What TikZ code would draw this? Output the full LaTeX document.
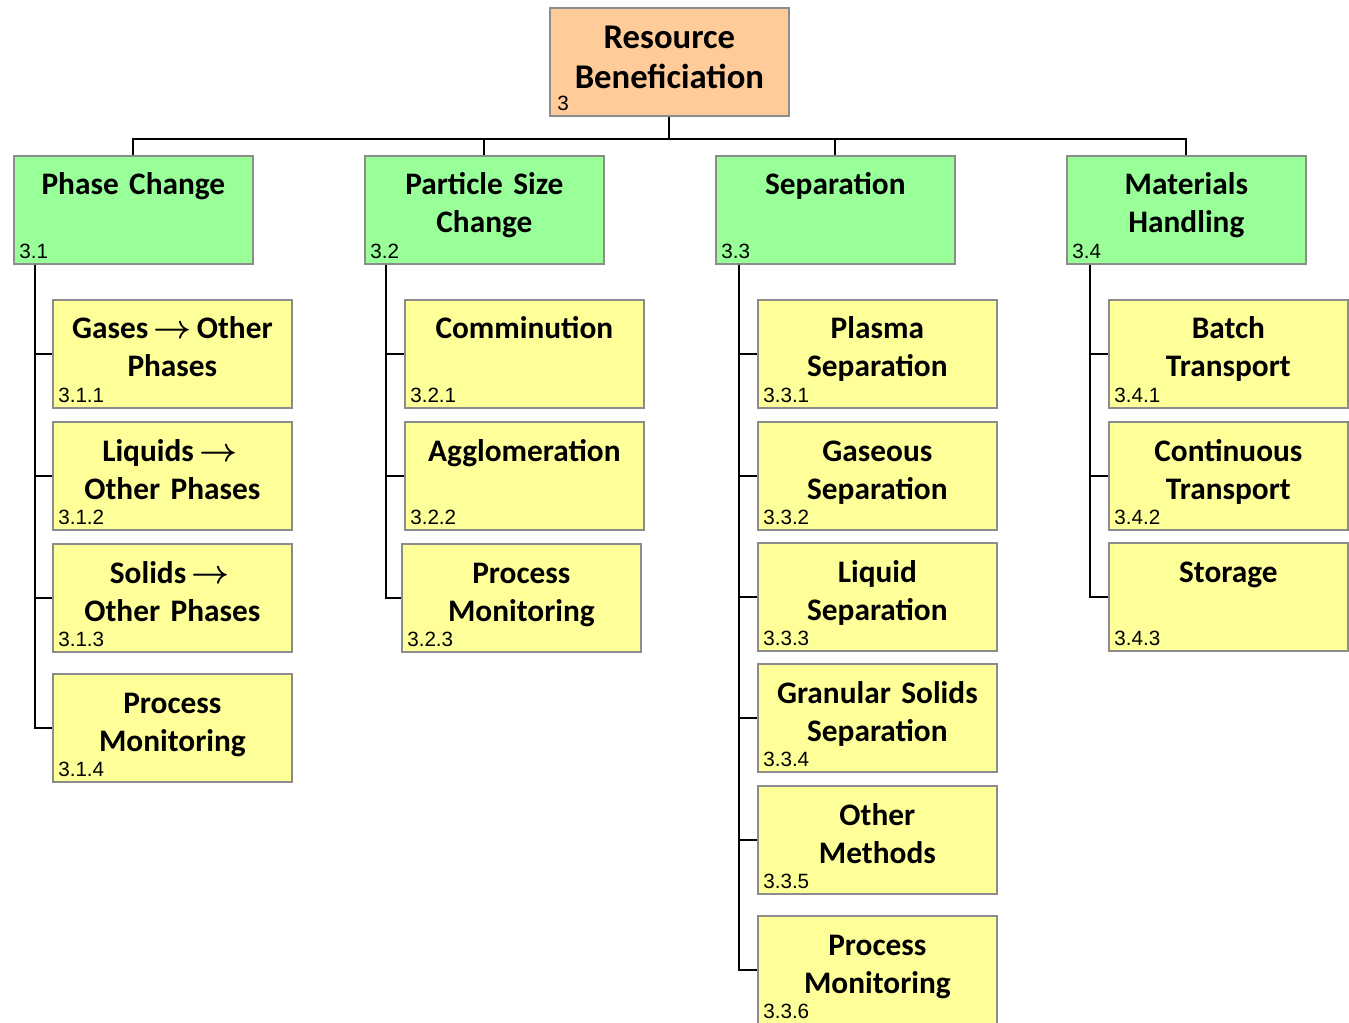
\documentclass[tikz,border=0pt]{standalone}
\usepackage{amsmath}
\usepackage{fontspec}
\setmainfont{Carlito}
\newfontfamily\numfont{Liberation Sans}
\usetikzlibrary{calc}
\definecolor{rootfill}{HTML}{FFCC99}
\definecolor{grnfill}{HTML}{99FF99}
\definecolor{yelfill}{HTML}{FFFF99}
\definecolor{bordergray}{HTML}{8C8C8C}
\newcommand{\arr}{\,$\boldsymbol{\rightarrow}$\,}
\tikzset{
  wbox/.style={draw=bordergray, line width=1.3pt, anchor=north west, minimum width=179.25pt, minimum height=81pt, inner sep=0pt},
  rootbox/.style={wbox, fill=rootfill},
  l2box/.style={wbox, fill=grnfill},
  l3box/.style={wbox, fill=yelfill},
  ttl/.style={anchor=base, align=center, text width=175pt, inner sep=0pt, font=\fontsize{23.5}{28.5}\selectfont\bfseries},
  rootttl/.style={ttl, font=\fontsize{26}{30}\selectfont\bfseries},
  num/.style={anchor=base west, inner sep=0pt, font=\numfont\fontsize{15.5}{17}\selectfont},
  conn/.style={draw=black, line width=1.5pt}
}
\begin{document}
\begin{tikzpicture}[x=0.75pt, y=-0.75pt]
\useasboundingbox (0,0) rectangle (1349,1023);
\clip (0,0) rectangle (1349,1023);
% boxes
\node[rootbox] (r) at (549,7) {};
\node[l2box] (b31) at (13,155) {};
\node[l2box] (b32) at (364,155) {};
\node[l2box] (b33) at (715,155) {};
\node[l2box] (b34) at (1066,155) {};
\node[l3box] (b311) at (52,299) {};
\node[l3box] (b312) at (52,421) {};
\node[l3box] (b313) at (52,543) {};
\node[l3box] (b314) at (52,673) {};
\node[l3box] (b321) at (404,299) {};
\node[l3box] (b322) at (404,421) {};
\node[l3box] (b323) at (401,543) {};
\node[l3box] (b331) at (757,299) {};
\node[l3box] (b332) at (757,421) {};
\node[l3box] (b333) at (757,542) {};
\node[l3box] (b334) at (757,663) {};
\node[l3box] (b335) at (757,785) {};
\node[l3box] (b336) at (757,915) {};
\node[l3box] (b341) at (1108,299) {};
\node[l3box] (b342) at (1108,421) {};
\node[l3box] (b343) at (1108,542) {};
% titles
\node[rootttl] (tr) at ($(r.north)+(0,42)$) {Resource\\Beneficiation};
\node[ttl] (t31) at ($(b31.north)+(0,40)$) {Phase Change};
\node[ttl] (t32) at ($(b32.north)+(0,40)$) {Particle Size\\Change};
\node[ttl] (t33) at ($(b33.north)+(0,40)$) {Separation};
\node[ttl] (t34) at ($(b34.north)+(0,40)$) {Materials\\Handling};
\node[ttl] (t311) at ($(b311.north)+(0,40)$) {Gases\arr Other\\Phases};
\node[ttl] (t312) at ($(b312.north)+(0,40)$) {Liquids\arr\\Other Phases};
\node[ttl] (t313) at ($(b313.north)+(0,40)$) {Solids\arr\\Other Phases};
\node[ttl] (t314) at ($(b314.north)+(0,40)$) {Process\\Monitoring};
\node[ttl] (t321) at ($(b321.north)+(0,40)$) {Comminution};
\node[ttl] (t322) at ($(b322.north)+(0,40)$) {Agglomeration};
\node[ttl] (t323) at ($(b323.north)+(0,40)$) {Process\\Monitoring};
\node[ttl] (t331) at ($(b331.north)+(0,40)$) {Plasma\\Separation};
\node[ttl] (t332) at ($(b332.north)+(0,40)$) {Gaseous\\Separation};
\node[ttl] (t333) at ($(b333.north)+(0,40)$) {Liquid\\Separation};
\node[ttl] (t334) at ($(b334.north)+(0,40)$) {Granular Solids\\Separation};
\node[ttl] (t335) at ($(b335.north)+(0,40)$) {Other\\Methods};
\node[ttl] (t336) at ($(b336.north)+(0,40)$) {Process\\Monitoring};
\node[ttl] (t341) at ($(b341.north)+(0,40)$) {Batch\\Transport};
\node[ttl] (t342) at ($(b342.north)+(0,40)$) {Continuous\\Transport};
\node[ttl] (t343) at ($(b343.north)+(0,40)$) {Storage};
% numbers
\node[num] (nr) at ($(r.south west)+(8,-6)$) {3};
\node[num] (n31) at ($(b31.south west)+(6,-6)$) {3.1};
\node[num] (n32) at ($(b32.south west)+(6,-6)$) {3.2};
\node[num] (n33) at ($(b33.south west)+(6,-6)$) {3.3};
\node[num] (n34) at ($(b34.south west)+(6,-6)$) {3.4};
\node[num] (n311) at ($(b311.south west)+(6,-6)$) {3.1.1};
\node[num] (n312) at ($(b312.south west)+(6,-6)$) {3.1.2};
\node[num] (n313) at ($(b313.south west)+(6,-6)$) {3.1.3};
\node[num] (n314) at ($(b314.south west)+(6,-6)$) {3.1.4};
\node[num] (n321) at ($(b321.south west)+(6,-6)$) {3.2.1};
\node[num] (n322) at ($(b322.south west)+(6,-6)$) {3.2.2};
\node[num] (n323) at ($(b323.south west)+(6,-6)$) {3.2.3};
\node[num] (n331) at ($(b331.south west)+(6,-6)$) {3.3.1};
\node[num] (n332) at ($(b332.south west)+(6,-6)$) {3.3.2};
\node[num] (n333) at ($(b333.south west)+(6,-6)$) {3.3.3};
\node[num] (n334) at ($(b334.south west)+(6,-6)$) {3.3.4};
\node[num] (n335) at ($(b335.south west)+(6,-6)$) {3.3.5};
\node[num] (n336) at ($(b336.south west)+(6,-6)$) {3.3.6};
\node[num] (n341) at ($(b341.south west)+(6,-6)$) {3.4.1};
\node[num] (n342) at ($(b342.south west)+(6,-6)$) {3.4.2};
\node[num] (n343) at ($(b343.south west)+(6,-6)$) {3.4.3};
% connectors: root to level 2
\coordinate (bus) at ($(r.south)+(0,22)$);
\draw[conn] (r.south) -- (bus);
\foreach \b in {b31,b32,b33,b34}{\draw[conn] (\b.north) |- (bus);}
% level 2 to level 3
\coordinate (s31) at ($(b31.south west)+(22,0)$);
\coordinate (s32) at ($(b32.south west)+(22,0)$);
\coordinate (s33) at ($(b33.south west)+(24,0)$);
\coordinate (s34) at ($(b34.south west)+(24,0)$);
\foreach \c in {b311,b312,b313,b314}{\draw[conn] (s31) |- (\c.west);}
\foreach \c in {b321,b322,b323}{\draw[conn] (s32) |- (\c.west);}
\foreach \c in {b331,b332,b333,b334,b335,b336}{\draw[conn] (s33) |- (\c.west);}
\foreach \c in {b341,b342,b343}{\draw[conn] (s34) |- (\c.west);}
\end{tikzpicture}
\end{document}
